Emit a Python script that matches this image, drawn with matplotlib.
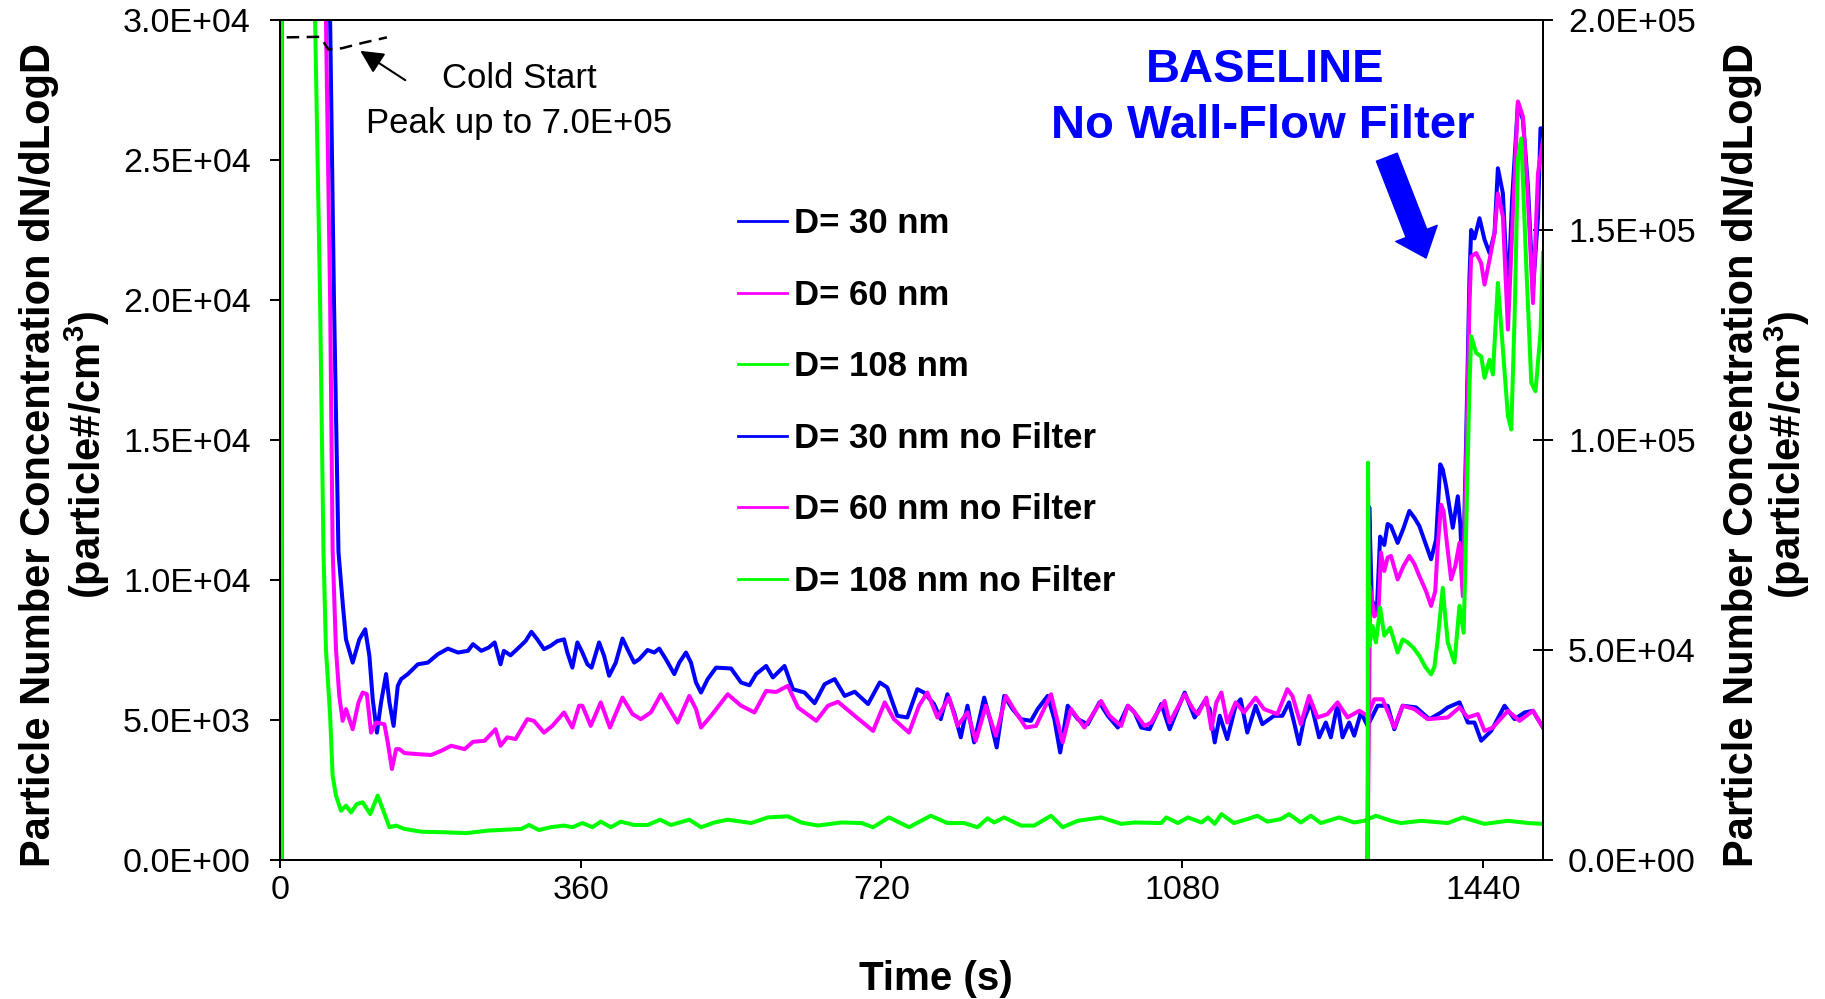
import matplotlib
matplotlib.use("Agg")
import matplotlib.pyplot as plt
from matplotlib.ticker import FuncFormatter

plt.rcParams['font.family'] = ['Liberation Sans', 'DejaVu Sans']
plt.rcParams['mathtext.fontset'] = 'custom'
plt.rcParams['mathtext.rm'] = 'Liberation Sans'
plt.rcParams['mathtext.bf'] = 'Liberation Sans:bold'

# --- with wall-flow filter (left axis, particle#/cm3) ---
t_f30 = [0, 2, 3, 56, 60, 64.6, 70, 75, 79, 87, 95, 102, 107, 111, 116, 121, 127, 131, 136, 141,
         145, 153, 165, 177, 189, 201, 213, 225, 231, 241, 250, 257, 264, 268, 276, 286, 294, 301,
         308, 316, 324, 332, 340, 344, 350, 356, 362, 368, 373, 382, 388, 394, 402, 410, 416, 424,
         430, 440, 448, 454, 462, 472, 478, 486, 492, 498, 504, 512, 522, 540, 552, 562, 570, 582,
         590, 604, 614, 628, 640, 652, 664, 676, 688, 704, 718, 727, 739, 751, 763, 771, 783, 791,
         799, 807, 815, 823, 831, 843, 851, 858, 867, 877, 887, 899, 907, 919, 927, 934, 943, 955,
         967, 981, 991, 1003, 1015, 1023, 1031, 1041, 1055, 1065, 1073, 1083, 1095, 1107, 1113, 1119,
         1125, 1134, 1144, 1150, 1158, 1168, 1176, 1190, 1200, 1208, 1214, 1220, 1226, 1234, 1244,
         1252, 1258, 1266, 1272, 1280, 1286, 1294, 1302, 1314, 1326, 1334, 1344, 1360, 1376, 1390,
         1398, 1412, 1422, 1430, 1438, 1450, 1466, 1478, 1490, 1500, 1512]
d30 = [0, 50, 250000, 45000, 30000, 20000, 11000, 9190, 7880, 7050, 7880, 8240, 7290, 5740, 4550,
       5630, 6640, 5630, 4790, 6220, 6460, 6640, 6990, 7050, 7350, 7550, 7410, 7470, 7710, 7470,
       7590, 7770, 6990, 7470, 7310, 7590, 7820, 8150, 7880, 7530, 7650, 7820, 7880, 7410, 6870,
       7770, 7410, 6990, 6870, 7770, 7290, 6580, 7050, 7910, 7530, 7050, 7170, 7500, 7410, 7550,
       7170, 6640, 7050, 7410, 7050, 6340, 5980, 6460, 6870, 6840, 6340, 6240, 6640, 6930, 6520,
       6930, 6100, 5980, 5600, 6280, 6460, 5860, 6010, 5570, 6340, 6160, 5150, 5090, 6100, 5980,
       5570, 5030, 5920, 5270, 4380, 5510, 4200, 5800, 4910, 4020, 5860, 5390, 5030, 4970, 5390,
       5860, 5030, 3840, 5510, 5030, 4850, 5630, 5150, 4730, 5510, 5270, 4730, 4670, 5570, 4670,
       5270, 5980, 5090, 5680, 5390, 4200, 5150, 4320, 5510, 5740, 4550, 5510, 4850, 5150, 5150,
       5630, 4910, 4140, 5030, 5630, 4380, 4910, 4380, 5570, 4380, 4910, 4440, 5270, 4790, 5510,
       5510, 4670, 5510, 5450, 5030, 5270, 5450, 5630, 4910, 4910, 4260, 4610, 5510, 5030, 5270,
       5330, 4730]

t_f60 = [0, 2, 3, 52, 55, 60, 63, 67, 71, 75, 79, 87, 94, 99, 104, 109, 115, 125, 129, 134, 139,
         143, 149, 165, 181, 193, 205, 221, 231, 245, 258, 264, 272, 282, 296, 304, 316, 326, 340,
         350, 358, 362, 372, 384, 395, 410, 422, 432, 444, 456, 464, 476, 490, 498, 504, 516, 536,
         552, 568, 582, 594, 608, 620, 642, 656, 668, 688, 710, 724, 735, 753, 765, 775, 787, 801,
         811, 823, 833, 845, 857, 869, 881, 893, 905, 923, 937, 947, 963, 983, 993, 1007, 1015, 1023,
         1035, 1043, 1059, 1065, 1083, 1093, 1099, 1109, 1115, 1121, 1127, 1134, 1144, 1154, 1168,
         1178, 1194, 1206, 1212, 1222, 1232, 1242, 1254, 1266, 1278, 1292, 1302, 1310, 1320, 1334,
         1344, 1358, 1374, 1398, 1412, 1422, 1434, 1442, 1452, 1470, 1484, 1500, 1512]
d60 = [0, 50, 200000, 45000, 30000, 20000, 11090, 7530, 5860, 4970, 5390, 4670, 5630, 5980, 5920,
       4550, 4910, 4850, 4200, 3250, 3960, 3960, 3820, 3780, 3750, 3900, 4080, 3960, 4220, 4260,
       4670, 4080, 4380, 4320, 5030, 4970, 4550, 4790, 5270, 4730, 5510, 5510, 4790, 5630, 4730,
       5800, 5210, 5030, 5270, 5920, 5510, 4910, 5860, 5390, 4730, 5150, 5920, 5510, 5270, 6040,
       6000, 6220, 5450, 4970, 5510, 5650, 5150, 4610, 5630, 5030, 4550, 5510, 5980, 5090, 5800,
       4790, 5270, 4260, 5510, 4440, 5860, 5270, 4730, 4790, 5920, 4200, 5390, 4730, 5680, 5150,
       4790, 5510, 5270, 4790, 4910, 5680, 4910, 5920, 5390, 5210, 5800, 4670, 5630, 5980, 4910,
       5630, 5270, 5800, 5390, 5210, 6100, 5860, 4850, 5860, 5090, 5210, 5630, 5090, 5330, 5150,
       5740, 5740, 4730, 5510, 5390, 5030, 5090, 5450, 5090, 5210, 4610, 4730, 5330, 4970, 5330,
       4730]

t_f108 = [0, 2, 3, 38, 42, 48, 52, 55, 60, 63, 67, 73, 79, 85, 92, 99, 108, 117, 123, 131, 139,
          149, 169, 197, 223, 249, 269, 289, 298, 310, 324, 340, 350, 362, 374, 384, 396, 408, 424,
          440, 455, 468, 490, 504, 520, 536, 564, 584, 608, 624, 644, 672, 696, 710, 729, 753, 779,
          799, 819, 835, 847, 855, 867, 887, 903, 923, 937, 955, 983, 1007, 1023, 1055, 1061, 1075,
          1087, 1103, 1111, 1119, 1127, 1142, 1158, 1170, 1182, 1198, 1208, 1222, 1234, 1246, 1268,
          1286, 1298, 1312, 1330, 1342, 1366, 1398, 1416, 1442, 1470, 1494, 1512]
d108 = [0, 50, 700000, 50000, 30000, 20000, 11090, 7530, 5150, 3010, 2300, 1760, 1940, 1700, 2000,
        2060, 1640, 2300, 1820, 1170, 1230, 1110, 1010, 990, 960, 1050, 1080, 1110, 1250, 1070,
        1170, 1230, 1170, 1320, 1170, 1370, 1170, 1370, 1250, 1250, 1440, 1250, 1440, 1170, 1340,
        1440, 1320, 1520, 1560, 1340, 1230, 1340, 1320, 1170, 1520, 1170, 1580, 1320, 1320, 1170,
        1490, 1340, 1520, 1230, 1230, 1580, 1170, 1400, 1520, 1290, 1340, 1320, 1520, 1320, 1520,
        1340, 1520, 1290, 1640, 1320, 1460, 1580, 1370, 1460, 1640, 1340, 1580, 1320, 1520, 1340,
        1400, 1580, 1400, 1320, 1400, 1320, 1520, 1290, 1400, 1320, 1290]

# --- baseline, no wall-flow filter (right axis) ---
t_n30 = [1302, 1304, 1307, 1313, 1317, 1322, 1326, 1330, 1338, 1345, 1352, 1358, 1364, 1372, 1378,
         1384, 1389, 1392, 1396, 1400, 1404, 1410, 1413, 1416, 1420, 1424, 1426, 1430, 1436, 1442,
         1448, 1454, 1458, 1464, 1470, 1475, 1482, 1488, 1494, 1500, 1506, 1509, 1512]
n30 = [0, 84000, 62000, 59000, 77000, 75000, 80000, 79500, 75500, 79000, 83100, 81500, 79500, 75000,
       71600, 76300, 94200, 93000, 89000, 84000, 79100, 86600, 80000, 65200, 100000, 138900, 150000,
       148000, 152800, 147700, 144500, 149300, 164700, 158700, 133400, 157200, 180200, 176200,
       160300, 135800, 153200, 174200, 174200]

t_n60 = [1302, 1305, 1310, 1315, 1318, 1322, 1326, 1330, 1338, 1345, 1352, 1358, 1364, 1372, 1378,
         1383, 1386, 1390, 1393, 1396, 1402, 1407, 1412, 1416, 1420, 1424, 1426, 1432, 1438, 1442,
         1448, 1454, 1458, 1464, 1470, 1475, 1482, 1488, 1494, 1500, 1506, 1512]
n60 = [0, 65000, 58000, 59000, 73200, 68800, 72000, 72400, 66800, 70000, 72400, 70500, 67600, 64000,
       60500, 64000, 74700, 84600, 83000, 77100, 66800, 70000, 75500, 62800, 95000, 132600, 143700,
       144500, 142100, 137000, 142900, 149300, 158700, 153200, 126300, 149300, 180600, 177000,
       157200, 132600, 163500, 171500]

t_n108 = [1302, 1302.5, 1304, 1308, 1312, 1317, 1322, 1329, 1338, 1344, 1350, 1357, 1364, 1371,
          1378, 1382, 1386, 1392, 1395, 1398, 1406, 1412, 1417, 1419, 1424, 1426, 1432, 1438, 1442,
          1448, 1452, 1458, 1464, 1470, 1474, 1478, 1482, 1486, 1492, 1498, 1503, 1509, 1512]
n108 = [0, 94600, 51000, 55700, 51800, 60100, 53400, 55300, 49400, 52500, 51800, 50500, 48600, 46000,
        44200, 46000, 52600, 64800, 58000, 51800, 47000, 60500, 54100, 70000, 112800, 124700, 120700,
        119900, 114800, 119100, 115600, 137400, 121500, 105700, 102500, 129400, 166700, 171800,
        141300, 113600, 111600, 125500, 144500]

labels = ['D= 30 nm', 'D= 60 nm', 'D= 108 nm',
          'D= 30 nm no Filter', 'D= 60 nm no Filter', 'D= 108 nm no Filter']
colors = ['#0000FF', '#FF00FF', '#00FF00']

# cold start break mark
t_break = [8, 48, 58, 74, 100, 128]
v_break = [29380, 29400, 28950, 28990, 29190, 29380]

W, H = 1825, 999
fig = plt.figure(figsize=(W / 100, H / 100), dpi=100)
ax = fig.add_axes([280 / W, 1 - 860 / H, (1543 - 280) / W, (860 - 20) / H])
ax2 = ax.twinx()

lw = 2.9
handles = []
for t, d, c, lab in zip([t_f30, t_f60, t_f108], [d30, d60, d108], colors, labels[:3]):
    h, = ax.plot(t, d, color=c, lw=lw, label=lab, solid_joinstyle='round')
    handles.append(h)
for t, d, c, lab in zip([t_n30, t_n60, t_n108], [n30, n60, n108], colors, labels[3:]):
    h, = ax2.plot(t, d, color=c, lw=lw, label=lab, solid_joinstyle='round')
    handles.append(h)

ax.plot(t_break, v_break, color='black', lw=1.8, ls=(0, (5, 3)))

ax.set_xlim(0, 1512)
ax.set_ylim(0, 30000)
ax2.set_ylim(0, 200000)
ax.set_xticks([0, 360, 720, 1080, 1440])
ax.set_yticks(range(0, 30001, 5000))
ax2.set_yticks(range(0, 200001, 50000))

sci = FuncFormatter(lambda v, p: '%.1E' % v)
ax.yaxis.set_major_formatter(sci)
ax2.yaxis.set_major_formatter(sci)

for a in (ax, ax2):
    for s in a.spines.values():
        s.set_linewidth(1.4)
ax.tick_params(axis='y', direction='out', length=7, width=1.4, labelsize=24.5, pad=14)
ax.tick_params(axis='x', direction='out', length=6, width=1.4, labelsize=24.5, pad=5)
ax2.tick_params(axis='y', direction='inout', length=14, width=1.4, labelsize=24.5, pad=11)

# axis titles
ylab1 = 'Particle Number Concentration dN/dLogD'
ylab2 = r'(particle#/cm$^{\mathbf{3}}$)'
fig.text(936 / W, 1 - 990 / H, 'Time (s)', ha='center', va='baseline',
         fontsize=29, fontweight='bold')
for xb, s in [(50, ylab1), (101, ylab2), (1753, ylab1), (1801, ylab2)]:
    fig.text(xb / W, 1 - 455 / H, s, rotation=90, rotation_mode='anchor',
             ha='center', va='baseline', fontsize=30, fontweight='bold')

# annotations
fig.text(519 / W, 1 - 88 / H, 'Cold Start', ha='center', va='baseline', fontsize=25)
fig.text(519 / W, 1 - 133 / H, 'Peak up to 7.0E+05', ha='center', va='baseline', fontsize=25)
ax.annotate('', xy=(96, 28900), xytext=(150, 27850),
            arrowprops=dict(arrowstyle='-|>,head_length=0.7,head_width=0.35', color='black',
                            lw=1.5, shrinkA=0, shrinkB=0, mutation_scale=20))

fig.text(1265 / W, 1 - 82 / H, 'BASELINE', ha='center', va='baseline',
         fontsize=34, fontweight='bold', color='#0000FF')
fig.text(1263 / W, 1 - 138 / H, 'No Wall-Flow Filter', ha='center', va='baseline',
         fontsize=34, fontweight='bold', color='#0000FF')
ax2.annotate('', xy=(1372, 21500 * 20 / 3), xytext=(1325, 25100 * 20 / 3),
             arrowprops=dict(arrowstyle='simple,head_length=19,head_width=32,tail_width=16',
                             color='#0000FF', shrinkA=0, shrinkB=0, mutation_scale=1))

leg = ax2.legend(handles=handles, loc='center left', bbox_to_anchor=(738 / W, 1 - 402.5 / H),
                 bbox_transform=fig.transFigure, frameon=False, borderpad=0, borderaxespad=0,
                 prop={'size': 25, 'weight': 'bold'}, handlelength=1.41, handletextpad=0.2,
                 labelspacing=1.11)
for ln in leg.get_lines():
    ln.set_linewidth(2)

fig.savefig('out.png', dpi=100)
